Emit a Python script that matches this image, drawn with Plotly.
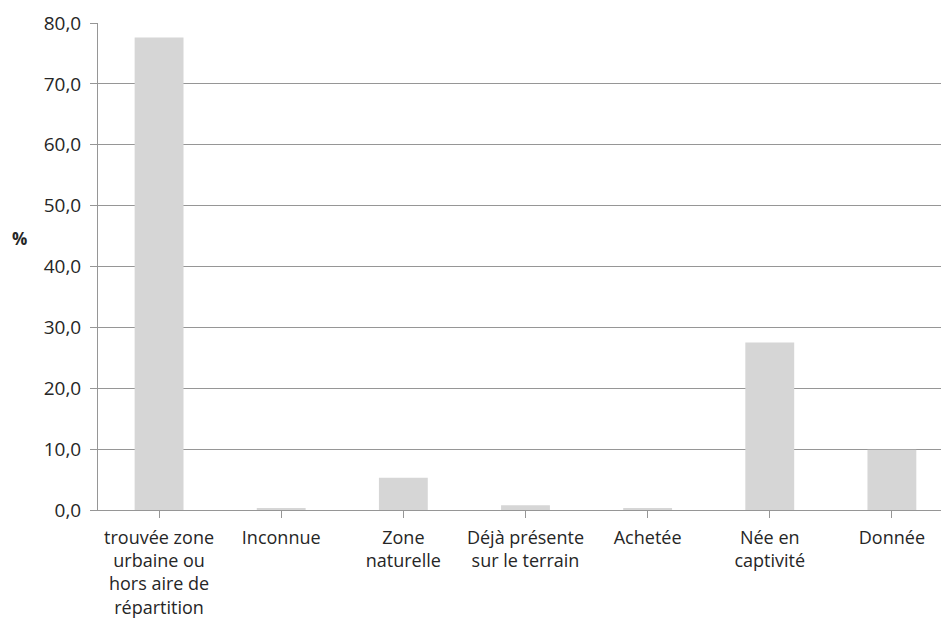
import plotly.graph_objects as go

# Origine des individus (%)
categories = [
    "trouvée zone<br>urbaine ou<br>hors aire de<br>répartition",
    "Inconnue",
    "Zone<br>naturelle",
    "Déjà présente<br>sur le terrain",
    "Achetée",
    "Née en<br>captivité",
    "Donnée",
]
values = [77.6, 0.3, 5.3, 0.8, 0.3, 27.5, 9.9]
y_ticks = [0, 10, 20, 30, 40, 50, 60, 70, 80]
y_tick_labels = ["0,0", "10,0", "20,0", "30,0", "40,0", "50,0", "60,0", "70,0", "80,0"]

GRID = "#969696"
TEXT = "#262626"
FONT = "Open Sans"

fig = go.Figure(
    go.Bar(
        x=list(range(len(categories))),
        y=values,
        marker=dict(color="#d6d6d6", line=dict(width=0)),
        hoverinfo="skip",
    )
)

fig.update_layout(
    width=941,
    height=618,
    margin=dict(l=98, r=0, t=23, b=108),
    paper_bgcolor="white",
    plot_bgcolor="white",
    bargap=0.6,
    showlegend=False,
    font=dict(family=FONT, size=18, color=TEXT),
)

fig.update_xaxes(
    tickmode="array",
    tickvals=list(range(len(categories))),
    ticktext=categories,
    tickson="boundaries",
    ticks="outside",
    ticklen=7,
    tickcolor=GRID,
    tickwidth=1,
    ticklabelstandoff=4,
    range=[-0.5, 6.402],
    showline=True,
    linecolor=GRID,
    linewidth=1,
    showgrid=False,
    zeroline=False,
    tickangle=0,
    tickfont=dict(family=FONT, size=18, color=TEXT),
)

fig.update_yaxes(
    range=[0, 80],
    tickmode="array",
    tickvals=y_ticks,
    ticktext=y_tick_labels,
    ticks="outside",
    ticklen=7,
    tickcolor=GRID,
    tickwidth=1,
    ticklabelstandoff=5,
    showline=True,
    linecolor=GRID,
    linewidth=1,
    showgrid=True,
    gridcolor=GRID,
    gridwidth=1,
    zeroline=False,
    tickfont=dict(family=FONT, size=19, color=TEXT),
)

fig.add_annotation(
    text="<b>%</b>",
    xref="paper", yref="paper",
    x=-0.093, y=0.557,
    xanchor="center", yanchor="middle",
    showarrow=False,
    font=dict(family=FONT, size=17, color=TEXT),
)

fig.write_html("out.html")
